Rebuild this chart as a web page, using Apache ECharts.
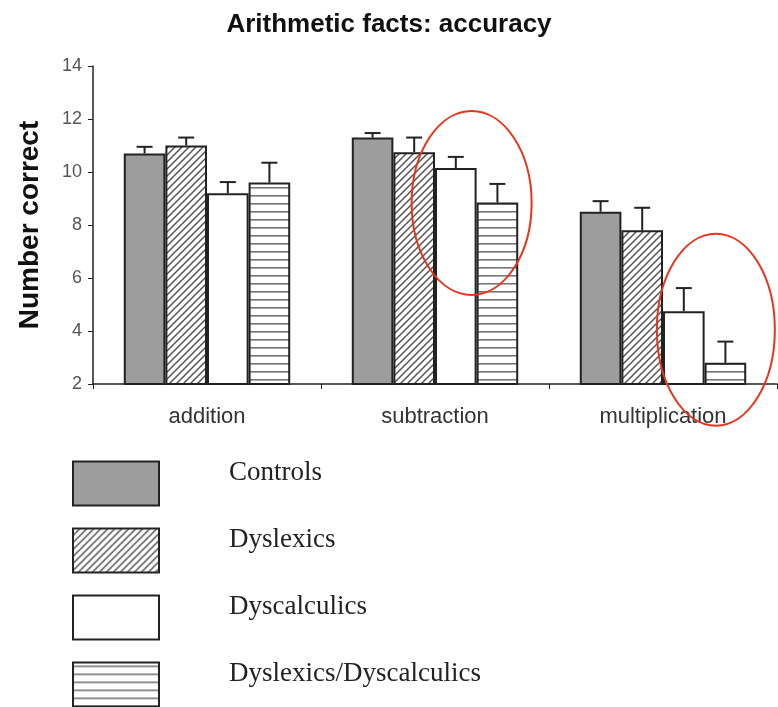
<!DOCTYPE html>
<html>
<head>
<meta charset="utf-8">
<script src="https://cdn.jsdelivr.net/npm/echarts@6/dist/echarts.min.js"></script>
<style>
  html, body { margin: 0; padding: 0; background: #fff; }
  #main { width: 778px; height: 707px; }
</style>
</head>
<body>
<div id="main"></div>
<script>
// data
var categories = ['addition', 'subtraction', 'multiplication'];
var groups = ['Controls', 'Dyslexics', 'Dyscalculics', 'Dyslexics/Dyscalculics'];
var controls = [10.7, 11.3, 8.5];
var dyslexics = [11.0, 10.75, 7.8];
var dyscalculics = [9.2, 10.15, 4.75];
var dysBoth = [9.6, 8.85, 2.8];
// upper end of the error bars
var controlsErr = [10.95, 11.47, 8.9];
var dyslexicsErr = [11.3, 11.3, 8.65];
var dyscalculicsErr = [9.62, 10.57, 5.62];
var dysBothErr = [10.35, 9.55, 3.6];
var yTicks = { min: 2, max: 14, interval: 2 };

var catGap = 0.27;

// fill patterns
function hatchPattern(){
  var c = document.createElement('canvas');
  c.width = 7; c.height = 7;
  var g = c.getContext('2d');
  g.fillStyle = '#fff';
  g.fillRect(0, 0, 7, 7);
  g.strokeStyle = '#555';
  g.lineWidth = 1.5;
  g.beginPath();
  g.moveTo(-1, 8); g.lineTo(8, -1);
  g.moveTo(-1, 1); g.lineTo(1, -1);
  g.moveTo(6, 8); g.lineTo(8, 6);
  g.stroke();
  return c;
}
function stripePattern(){
  var c = document.createElement('canvas');
  c.width = 8; c.height = 8;
  var g = c.getContext('2d');
  g.fillStyle = '#fff';
  g.fillRect(0, 0, 8, 8);
  g.fillStyle = '#777';
  g.fillRect(0, 3, 8, 1.6);
  return c;
}

var border = '#222';
var styles = [
  { color: '#9d9d9d', borderColor: border, borderWidth: 2 },
  { color: { image: hatchPattern(), repeat: 'repeat' }, borderColor: border, borderWidth: 2 },
  { color: '#ffffff', borderColor: border, borderWidth: 2 },
  { color: { image: stripePattern(), repeat: 'repeat' }, borderColor: border, borderWidth: 2 }
];
var values = [controls, dyslexics, dyscalculics, dysBoth];
var errs = [controlsErr, dyslexicsErr, dyscalculicsErr, dysBothErr];

var series = [];
groups.forEach(function(name, i){
  series.push({
    name: name,
    type: 'bar',
    data: values[i],
    barGap: '0%',
    barCategoryGap: (catGap * 100) + '%',
    itemStyle: styles[i],
    z: 2
  });
});
// error whiskers (upper only)
groups.forEach(function(name, i){
  series.push({
    type: 'custom',
    z: 3,
    data: categories.map(function(c, k){ return [k, values[i][k], errs[i][k]]; }),
    renderItem: function(params, api){
      var band = api.size([1, 0])[0];
      var barW = band * (1 - catGap) / 4;
      var base = api.coord([api.value(0), api.value(1)]);
      var top = api.coord([api.value(0), api.value(2)]);
      var x = base[0] + (i - 1.5) * barW;
      var cap = 8;
      return {
        type: 'group',
        children: [
          { type: 'line', shape: { x1: x, y1: base[1], x2: x, y2: top[1] }, style: { stroke: '#222', lineWidth: 2 } },
          { type: 'line', shape: { x1: x - cap, y1: top[1], x2: x + cap, y2: top[1] }, style: { stroke: '#222', lineWidth: 2 } }
        ]
      };
    }
  });
});

var chart = echarts.init(document.getElementById('main'));
chart.setOption({
  animation: false,
  backgroundColor: '#fff',
  title: {
    text: 'Arithmetic facts: accuracy',
    left: 'center',
    top: 7,
    textStyle: { fontFamily: 'Liberation Sans', fontSize: 26, fontWeight: 'bold', color: '#111' }
  },
  grid: { left: 93, right: 1, top: 66, bottom: 323 },
  legend: {
    orient: 'vertical',
    left: 72,
    top: 459,
    height: 300,
    padding: 0,
    itemWidth: 86,
    itemHeight: 44,
    itemGap: 18,
    selectedMode: false,
    data: groups.map(function(g){ return { name: g, icon: 'rect' }; }),
    // second empty line lifts the label above the swatch centre
    formatter: function(name){ return name + '\n '; },
    textStyle: { fontFamily: 'Liberation Serif', fontSize: 27, lineHeight: 22, color: '#222', padding: [0, 0, 0, 65] }
  },
  xAxis: {
    type: 'category',
    data: categories,
    axisLine: { lineStyle: { color: '#222', width: 1.5 } },
    axisTick: { show: true, length: 5, lineStyle: { color: '#222' } },
    axisLabel: { fontFamily: 'Liberation Sans', fontSize: 22, color: '#333', margin: 22 }
  },
  yAxis: {
    type: 'value',
    min: yTicks.min,
    max: yTicks.max,
    interval: yTicks.interval,
    name: 'Number correct',
    nameLocation: 'middle',
    nameGap: 49,
    nameTextStyle: { fontFamily: 'Liberation Sans', fontSize: 28, fontWeight: 'bold', color: '#111' },
    axisLine: { show: true, lineStyle: { color: '#222', width: 1.5 } },
    axisTick: { show: true, length: 5, lineStyle: { color: '#222' } },
    axisLabel: { fontFamily: 'Liberation Sans', fontSize: 18, color: '#555', margin: 11 },
    splitLine: { show: false }
  },
  series: series
});

// red hand-drawn ellipses around the highlighted bars
function ellipseAt(cat, off, val, rx, ry){
  var p = chart.convertToPixel({ xAxisIndex: 0, yAxisIndex: 0 }, [cat, val]);
  var band = 684 / categories.length;
  var barW = band * (1 - catGap) / 4;
  return {
    type: 'ellipse',
    shape: { cx: p[0] + off * barW, cy: p[1], rx: rx, ry: ry },
    style: { fill: 'none', stroke: '#e8341c', lineWidth: 2 },
    z: 10
  };
}
chart.setOption({
  graphic: [
    ellipseAt('subtraction', 0.88, 8.83, 60, 92),
    ellipseAt('multiplication', 1.27, 4.05, 59, 96)
  ]
});
</script>
</body>
</html>
